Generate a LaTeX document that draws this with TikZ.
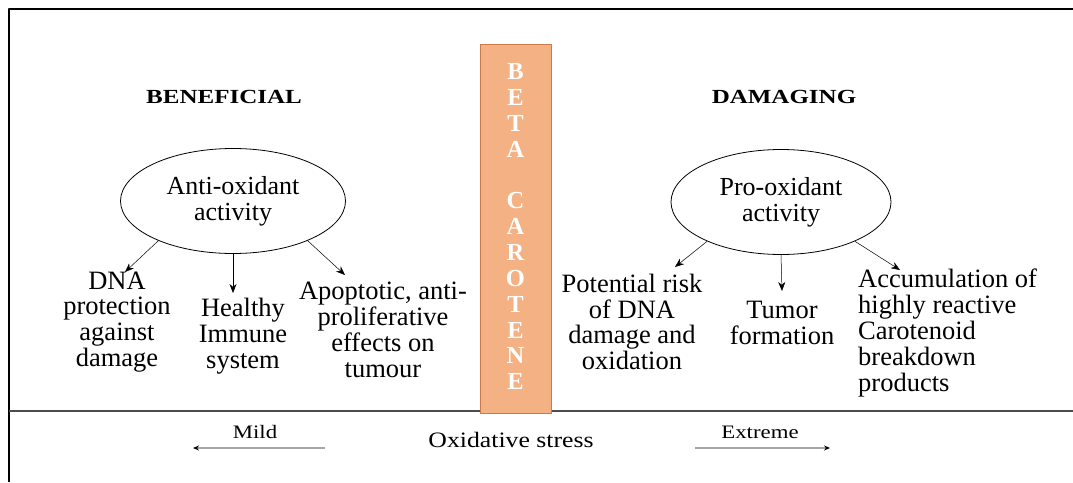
\documentclass[tikz,border=0pt]{standalone}
\usepackage{fontspec}
\setmainfont{Liberation Serif}
\usetikzlibrary{shapes.geometric,arrows.meta}
\definecolor{barfill}{HTML}{F4B183}
\definecolor{barline}{HTML}{CC7A48}
\begin{document}
\begin{tikzpicture}[x=1pt, y=-1pt, line join=round, >={Stealth[length=9pt,width=7pt]},
  txt/.style={align=center, inner sep=0pt, font=\fontsize{26.5}{25.8}\selectfont},
  act/.style={ellipse, draw, line width=0.8pt, minimum width=225pt, minimum height=105pt, inner sep=0pt, align=center, font=\fontsize{26}{25.8}\selectfont},
  head/.style={inner sep=0pt, font=\bfseries\fontsize{20}{24}\selectfont},
  small/.style={inner sep=0pt, font=\fontsize{19}{22}\selectfont},
  link/.style={->, line width=0.5pt},
  stressarrow/.style={-{Stealth[length=6pt,width=5pt,color=black]}, line width=1.8pt, black!35}]
\useasboundingbox (0,0) rectangle (1073,482);
% frame
\draw[line width=2pt] (9,482)--(9,9)--(1073,9);
\draw[line width=1.3pt, black!70] (9,411)--(1073,411);
% bar
\node[draw=barline, fill=barfill, line width=0.8pt, minimum width=71pt, minimum height=369pt, inner sep=0pt] (beta) at (515.5,228.5) {};
\foreach \l/\i in {B/0,E/1,T/2,A/3,C/5,A/6,R/7,O/8,T/9,E/10,N/11,E/12}
  \node[head, white, font=\bfseries\fontsize{24.5}{24}\selectfont] (l\i) at (515.5,72+\i*25.8) {\l};
% headings
\node[head] (ben) at (224,97) {\scalebox{1.25}[1]{BENEFICIAL}};
\node[head] (dam) at (784,97) {\scalebox{1.25}[1]{DAMAGING}};
% activities
\node[act] (anti) at (233,201) {Anti-oxidant\\activity};
\node[act, minimum width=220pt] (pro) at (781,202) {Pro-oxidant\\activity};
% effects
\node[txt] (dna) at (117,322) {DNA\\protection\\against\\damage};
\node[txt] (imm) at (243,336) {Healthy\\Immune\\system};
\node[txt] (apo) at (383,330) {Apoptotic, anti-\\proliferative\\effects on\\tumour};
\node[txt] (risk) at (632,322) {Potential risk\\of DNA\\damage and\\oxidation};
\node[txt] (tum) at (782,323) {Tumor\\formation};
\node[txt, align=left, anchor=west] (acc) at (858,333) {Accumulation of\\highly reactive\\Carotenoid\\breakdown\\products};
\path
  (125,272) coordinate (t1)
  (233,293) coordinate (t2)
  (345,275) coordinate (t3)
  (675,267) coordinate (t4)
  (782,291) coordinate (t5)
  (900,270) coordinate (t6)
  ;
\draw[link] (anti.208)--(t1);
\draw[link] (anti.south)--(t2);
\draw[link] (anti.332)--(t3);
\draw[link] (pro.208)--(t4);
\draw[link] (pro.south)--(t5);
\draw[link] (pro.332)--(t6);
% oxidative stress scale
\node[inner sep=0pt, font=\fontsize{22}{25}\selectfont] (ox) at (511,440) {\scalebox{1.17}[1]{Oxidative stress}};
\node[small] (mild) at (255,432) {\scalebox{1.2}[1]{Mild}};
\node[small] (ext) at (760,432) {\scalebox{1.2}[1]{Extreme}};
\path (325,448) coordinate (m1) (193,448) coordinate (m2)
      (695,448) coordinate (e1) (830,448) coordinate (e2);
\draw[stressarrow] (m1)--(m2);
\draw[stressarrow] (e1)--(e2);
\end{tikzpicture}
\end{document}
